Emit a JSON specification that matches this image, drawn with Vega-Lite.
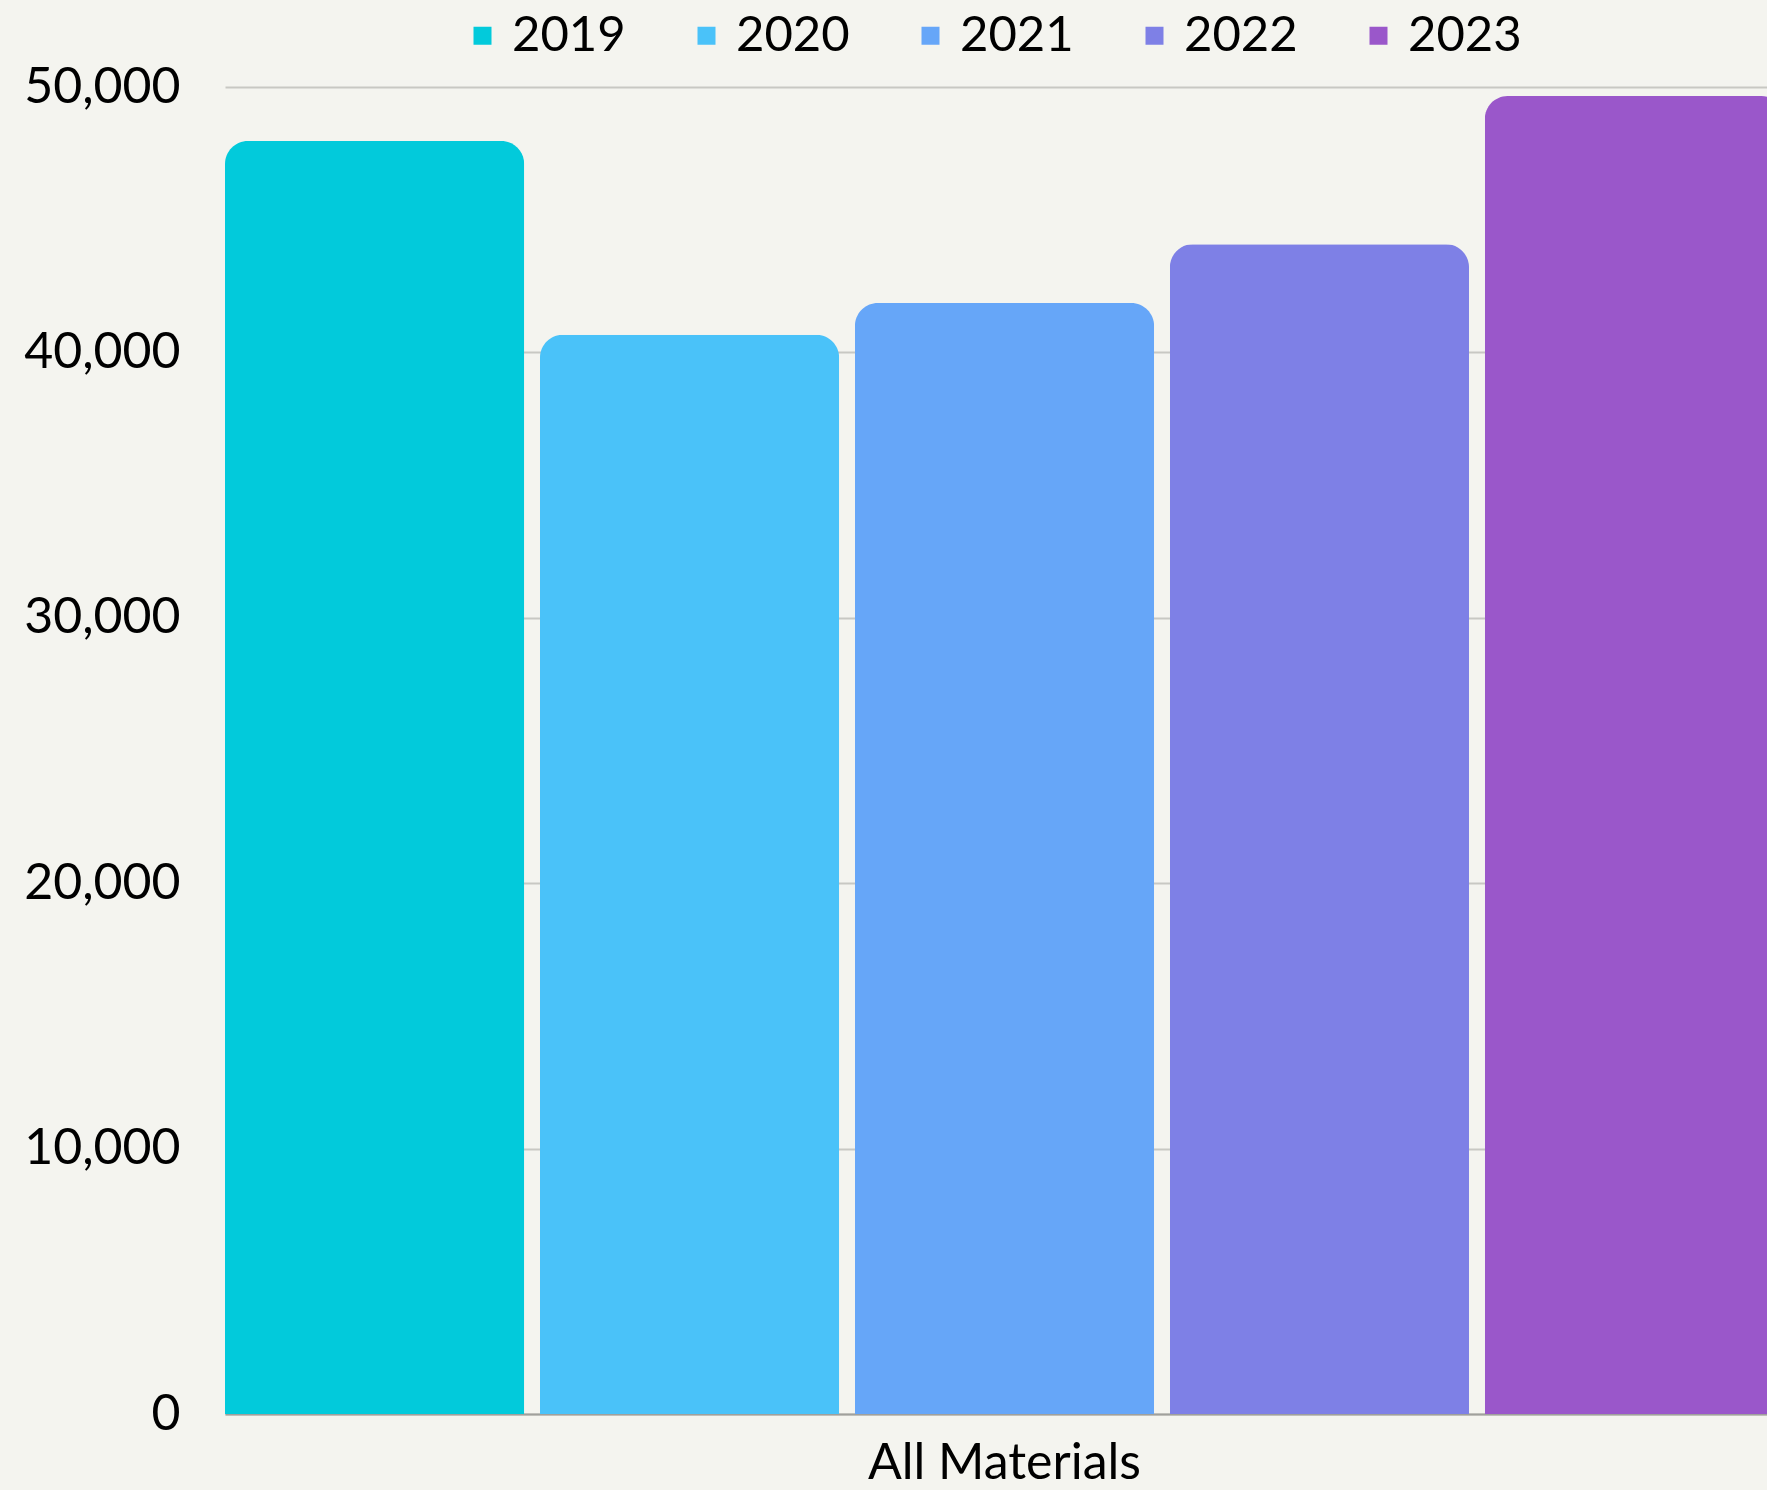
{
  "$schema": "https://vega.github.io/schema/vega-lite/v6.json",
  "autosize": "none",
  "padding": {"left": 225, "top": 87, "right": -17, "bottom": 76},
  "width": 1559,
  "height": 1327,
  "background": "#f4f4ef",
  "data": {"values": [
    {"category": "All Materials", "year": "2019", "value": 47965},
    {"category": "All Materials", "year": "2020", "value": 40667},
    {"category": "All Materials", "year": "2021", "value": 41861},
    {"category": "All Materials", "year": "2022", "value": 44073},
    {"category": "All Materials", "year": "2023", "value": 49661}
  ]},
  "mark": {"type": "bar", "cornerRadiusTopLeft": 23, "cornerRadiusTopRight": 23},
  "encoding": {
    "x": {"field": "category", "type": "nominal", "scale": {"paddingInner": 0, "paddingOuter": 0},
      "axis": {"title": null, "labelAngle": 0, "ticks": false, "domainColor": "#a0a09c", "domainWidth": 2, "labelPadding": 24, "labelLimit": 1000, "labelFontSize": 50, "labelFont": "Lato", "labelColor": "#000000"}},
    "xOffset": {"field": "year", "type": "nominal", "scale": {"paddingInner": 0.05, "paddingOuter": 0}},
    "y": {"field": "value", "type": "quantitative", "scale": {"domain": [0, 50000]},
      "axis": {"title": null, "values": [0, 10000, 20000, 30000, 40000, 50000], "format": ",d", "ticks": false, "domain": false, "gridColor": "#c8c8c3", "gridWidth": 2, "labelPadding": 45, "labelFontSize": 50, "labelFont": "Lato", "labelColor": "#000000"}},
    "color": {"field": "year", "type": "nominal",
      "scale": {"domain": ["2019", "2020", "2021", "2022", "2023"], "range": ["#02cadb", "#4ac2f9", "#66a6f8", "#7e80e6", "#9a57ca"]},
      "legend": {"title": null, "orient": "none", "legendX": 233, "legendY": -76, "direction": "horizontal", "symbolType": "square", "symbolSize": 324, "labelFontSize": 49, "labelFont": "Lato", "labelColor": "#000000", "labelOffset": 5, "columnPadding": 56}}
  },
  "config": {
    "view": {"stroke": null}
  }
}
